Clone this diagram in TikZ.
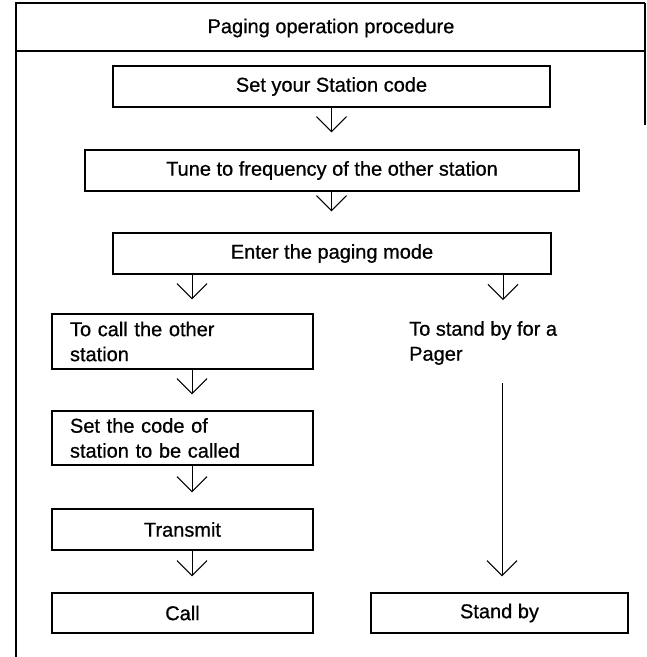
\documentclass[tikz,border=0pt]{standalone}
\usepackage{fontspec}
\setmainfont{Liberation Sans}[FakeBold=0.7]
\usetikzlibrary{arrows.meta}
\tikzset{
  boxstyle/.style={draw, line width=1.5pt, inner sep=0pt, align=center},
  leftbox/.style={draw, line width=1.5pt, inner xsep=18pt, inner ysep=0pt, align=left,
     text width=225pt, minimum width=261pt},
  framestyle/.style={line width=1.6pt},
  arr/.style={line width=1pt, -{Straight Barb[length=15pt,width=30pt,line width=1pt]}},
  plainline/.style={line width=1pt}
}
\begin{document}
\begin{tikzpicture}[x=1pt,y=-1pt,font=\fontsize{20}{25}\selectfont]
\useasboundingbox[fill=white] (0,0) rectangle (647,657);
% frame
\draw[framestyle] (645,3) -- (16,3) -- (16,657);
\draw[framestyle] (16,51) -- (645,51);
\draw[framestyle] (645,3) -- (645,125);
\node (title) at (331,28) {Paging operation procedure};
% top column
\node[boxstyle, minimum width=437pt, minimum height=41pt] (b1) at (331.5,86.5) {Set your Station code};
\node[boxstyle, minimum width=494pt, minimum height=41pt] (b2) at (332,170.5) {Tune to frequency of the other station};
\node[boxstyle, minimum width=438pt, minimum height=41pt] (b3) at (332,253.5) {Enter the paging mode};
% left column
\node[leftbox, minimum height=55pt] (b4) at (182.5,341.5) {To call the other\\station};
\node[leftbox, minimum height=54pt] (b5) at (182.5,438) {Set the code of\\station to be called};
\node[boxstyle, minimum width=261pt, minimum height=41pt] (b6) at (182.5,529.5) {Transmit};
\node[boxstyle, minimum width=261pt, minimum height=40pt] (b7) at (182.5,613) {Call};
% right column
\node[align=left, anchor=west, inner sep=0pt] (rt) at (409,343) {To stand by for a\\Pager};
\node[boxstyle, minimum width=257pt, minimum height=40pt] (b8) at (499.5,613) {Stand by};
% helper coordinates
\coordinate (lc) at (192,0);
\coordinate (rc) at (503,0);
\coordinate (rtip) at (503,300);
\coordinate (rtop) at (502,383);
% connectors
\draw[arr] (b1.south) -- ([yshift=17pt]b2.north -| b1.south);
\draw[arr] (b2.south -| b1.south) -- ([yshift=21pt]b3.north -| b1.south);
\draw[arr] (b3.south -| lc) -- ([yshift=14pt]b4.north -| lc);
\draw[arr] (b3.south -| rc) -- (rtip);
\draw[arr] (b4.south -| lc) -- ([yshift=16pt]b5.north -| lc);
\draw[arr] (b5.south -| lc) -- ([yshift=16pt]b6.north -| lc);
\draw[arr] (b6.south -| lc) -- ([yshift=16pt]b7.north -| lc);
\draw[arr] (rtop) -- ([yshift=16pt]b8.north -| rtop);
\end{tikzpicture}
\end{document}
